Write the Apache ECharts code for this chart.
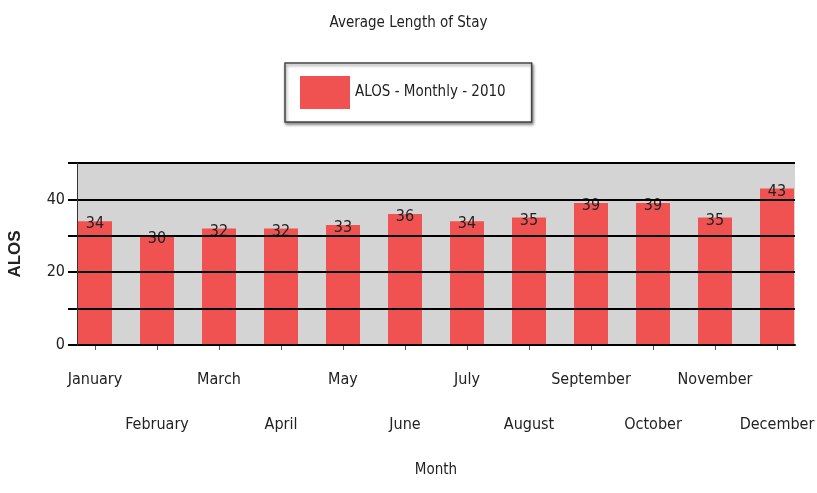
<!DOCTYPE html>
<html>
<head>
<meta charset="utf-8">
<script src="https://cdn.jsdelivr.net/npm/echarts@6/dist/echarts.min.js"></script>
<style>html,body{margin:0;padding:0;background:#fff}#c{width:817px;height:493px}</style>
</head>
<body>
<div id="c"></div>
<script>
var months = ["January","February","March","April","May","June","July","August","September","October","November","December"];
var alos = [34,30,32,32,33,36,34,35,39,39,35,43];
var seriesName = "ALOS - Monthly - 2010";
var titleText = "Average Length of Stay";
var xName = "Month";
var yName = "ALOS";

var FONT = "'Liberation Sans Narrow','DejaVu Sans Condensed','Arial Narrow',sans-serif";
var chart = echarts.init(document.getElementById('c'), null, {renderer:'canvas'});
chart.setOption({
  animation:false,
  backgroundColor:'#fff',
  title:{text:titleText,left:'center',top:11,textStyle:{fontFamily:FONT,fontSize:15,fontWeight:'normal',color:'#222'}},
  legend:{
    left:285, top:63,
    padding:[13,26,13,15],
    itemWidth:50,itemHeight:33,itemGap:8,
    borderColor:'#444',borderWidth:1.5,
    shadowColor:'rgba(0,0,0,0.45)',shadowBlur:3,shadowOffsetX:1,shadowOffsetY:2,
    backgroundColor:'#fff',
    textStyle:{fontFamily:FONT,fontSize:15,color:'#222'},
    icon:'rect',
    data:[seriesName]
  },
  grid:[
    {left:77,right:22,top:163,bottom:148,show:true,backgroundColor:'#d4d4d4',borderWidth:0,outerBoundsMode:'none'},
    {left:64,right:9,top:163,bottom:148,show:false,outerBoundsMode:'none'}
  ],
  xAxis:[
    {gridIndex:0,type:'value',min:0,max:1,
     axisLine:{show:true,onZero:false,lineStyle:{color:'#000',width:2}},
     axisTick:{show:false},axisLabel:{show:false},splitLine:{show:false}},
    {gridIndex:1,type:'category',data:months,boundaryGap:true,
     name:xName,nameLocation:'middle',nameGap:118,
     nameTextStyle:{fontFamily:FONT,fontSize:15,color:'#222'},
     axisLine:{show:false},
     axisTick:{show:true,alignWithLabel:true,length:5,lineStyle:{color:'#555'}},
     axisLabel:{interval:0,fontFamily:FONT,fontSize:16,color:'#222',lineHeight:45,margin:12,
       formatter:function(v,i){return (i%2===1?'\n':'')+v;}},
     splitLine:{show:false}}
  ],
  yAxis:[
    {gridIndex:0,type:'value',min:0,max:50,interval:10,z:5,
     name:yName,nameLocation:'middle',nameGap:53,
     nameTextStyle:{fontFamily:"'Liberation Sans',Arial,sans-serif",fontSize:17,fontWeight:'bold',color:'#222'},
     axisLine:{show:true,onZero:false,lineStyle:{color:'#333',width:1}},
     axisTick:{show:true,length:9,lineStyle:{color:'#000',width:2}},
     axisLabel:{fontFamily:FONT,fontSize:16,color:'#222',margin:12,
       formatter:function(v){return v%20===0?String(v):'';}},
     splitLine:{show:true,lineStyle:{color:'#000',width:2}}},
    {gridIndex:1,type:'value',min:0,max:50,show:false,splitLine:{show:false}}
  ],
  series:[{
    name:seriesName,type:'bar',xAxisIndex:1,yAxisIndex:1,barWidth:34,
    itemStyle:{color:'#f05252'},
    label:{show:true,position:'top',distance:-11,fontFamily:FONT,fontSize:16,color:'#222'},
    data:alos
  }]
});
</script>
</body>
</html>
